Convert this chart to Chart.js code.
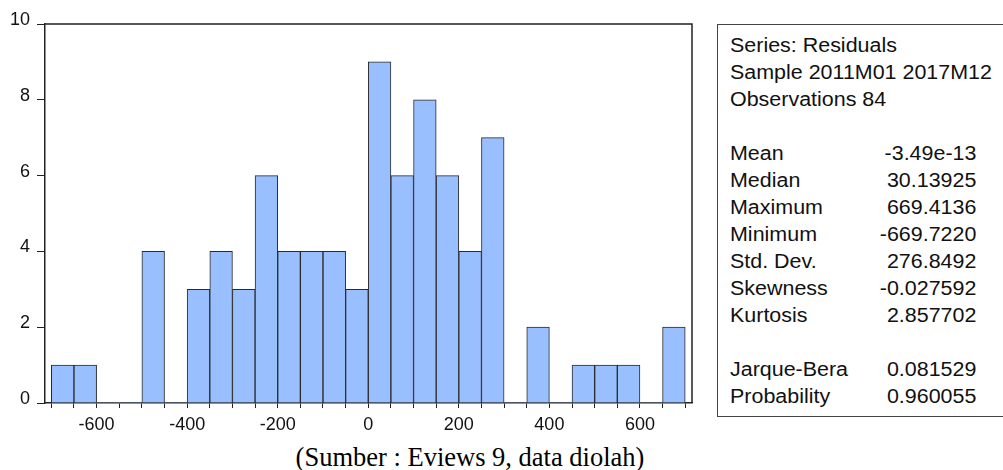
<!DOCTYPE html>
<html>
<head>
<meta charset="utf-8">
<script src="https://cdn.jsdelivr.net/npm/chart.js@4/dist/chart.umd.min.js"></script>
<style>
  body { margin: 0; background: #fff; }
  #page { position: relative; width: 1003px; height: 470px; overflow: hidden; font-family: "Liberation Sans", Arial, sans-serif; }
  #plot { position: absolute; left: 0; top: 0; width: 705px; height: 440px; }
  #stats { position: absolute; left: 717px; top: 24px; width: 290px; height: 393px; border: 1px solid #444; box-sizing: border-box; }
  #statsInner { position: absolute; left: 12px; top: 7px; width: 224px; transform: scaleX(1.1); transform-origin: left top; font-size: 19.5px; color: #111; }
  .row { height: 27px; line-height: 27px; white-space: nowrap; position: relative; }
  .row .v { position: absolute; right: 0; top: 0; }
  #caption { position: absolute; left: 0; top: 444px; width: 940px; text-align: center; font-family: "Liberation Serif", "Times New Roman", serif; font-size: 26.5px; line-height: 26px; color: #000; }
</style>
</head>
<body>
<div id="page">
  <div id="plot"><canvas id="histChart"></canvas></div>
  <div id="stats"><div id="statsInner"></div></div>
  <div id="caption">(Sumber : Eviews 9, data diolah)</div>
</div>
<script>
// histogram bins (lower edge of each 50-wide bin) and counts
const binStarts = [-700, -650, -600, -550, -500, -450, -400, -350, -300, -250, -200, -150, -100, -50,
                   0, 50, 100, 150, 200, 250, 300, 350, 400, 450, 500, 550, 600, 650];
const counts = [1, 1, 0, 0, 4, 0, 3, 4, 3, 6, 4, 4, 4, 3,
                9, 6, 8, 6, 4, 7, 0, 2, 0, 1, 1, 1, 0, 2];
const binWidth = 50;
const xTickLabels = [-600, -400, -200, 0, 200, 400, 600];
const yTicks = [0, 2, 4, 6, 8, 10];

// descriptive statistics panel
const headerLines = ["Series: Residuals", "Sample 2011M01 2017M12", "Observations 84"];
const statNames = ["Mean", "Median", "Maximum", "Minimum", "Std. Dev.", "Skewness", "Kurtosis"];
const statValues = ["-3.49e-13", "30.13925", "669.4136", "-669.7220", "276.8492", "-0.027592", "2.857702"];
const testNames = ["Jarque-Bera", "Probability"];
const testValues = ["0.081529", "0.960055"];

const inner = document.getElementById("statsInner");
function addRow(label, value) {
  const r = document.createElement("div");
  r.className = "row";
  r.textContent = label;
  if (value !== undefined) {
    const v = document.createElement("span");
    v.className = "v";
    v.textContent = value;
    r.appendChild(v);
  }
  inner.appendChild(r);
}
headerLines.forEach(l => addRow(l));
addRow("\u00a0");
statNames.forEach((n, i) => addRow(n, statValues[i]));
addRow("\u00a0");
testNames.forEach((n, i) => addRow(n, testValues[i]));

// frame on top and right of the plot area
const framePlugin = {
  id: "frame",
  afterDraw(chart) {
    const { ctx, chartArea: a } = chart;
    ctx.save();
    ctx.strokeStyle = "#222";
    ctx.lineWidth = 1.5;
    ctx.beginPath();
    ctx.moveTo(a.left, a.top);
    ctx.lineTo(a.right, a.top);
    ctx.lineTo(a.right, a.bottom);
    ctx.stroke();
    ctx.restore();
  }
};

const edges = binStarts.concat([binStarts[binStarts.length - 1] + binWidth]);
const tickFont = { family: "'Liberation Sans', Arial, sans-serif", size: 18 };

new Chart(document.getElementById("histChart"), {
  type: "bar",
  data: {
    datasets: [{
      data: binStarts.map((s, i) => ({ x: s + binWidth / 2, y: counts[i] })),
      backgroundColor: "#99BFFF",
      borderColor: "#2a2a2a",
      borderWidth: c => (c.raw && c.raw.y === 0) ? 0 : 1,
      borderSkipped: "bottom",
      barPercentage: 1,
      categoryPercentage: 1
    }]
  },
  options: {
    responsive: true,
    maintainAspectRatio: false,
    animation: false,
    layout: { padding: { top: 24, right: 13, left: 0, bottom: 0 } },
    plugins: { legend: { display: false }, tooltip: { enabled: false } },
    scales: {
      x: {
        type: "linear",
        offset: false,
        min: -714,
        max: 715,
        afterBuildTicks: s => { s.ticks = edges.map(v => ({ value: v })); },
        afterFit: s => { s.height = 37; },
        ticks: {
          autoSkip: false,
          maxRotation: 0,
          color: "#111",
          padding: 6,
          font: tickFont,
          callback: v => xTickLabels.includes(v) ? String(v) : ""
        },
        grid: { drawOnChartArea: false, offset: false, color: "#222", tickLength: 5, tickWidth: 1 },
        border: { color: "#222", width: 1.5 }
      },
      y: {
        min: 0,
        max: 10,
        afterBuildTicks: s => { s.ticks = yTicks.map(v => ({ value: v })); },
        afterFit: s => { s.width = 45; },
        ticks: {
          color: "#111",
          padding: 7,
          labelOffset: -4,
          font: tickFont
        },
        grid: { drawOnChartArea: false, color: "#222", tickLength: 8, tickWidth: 1 },
        border: { color: "#222", width: 1.5 }
      }
    }
  },
  plugins: [framePlugin]
});
</script>
</body>
</html>
